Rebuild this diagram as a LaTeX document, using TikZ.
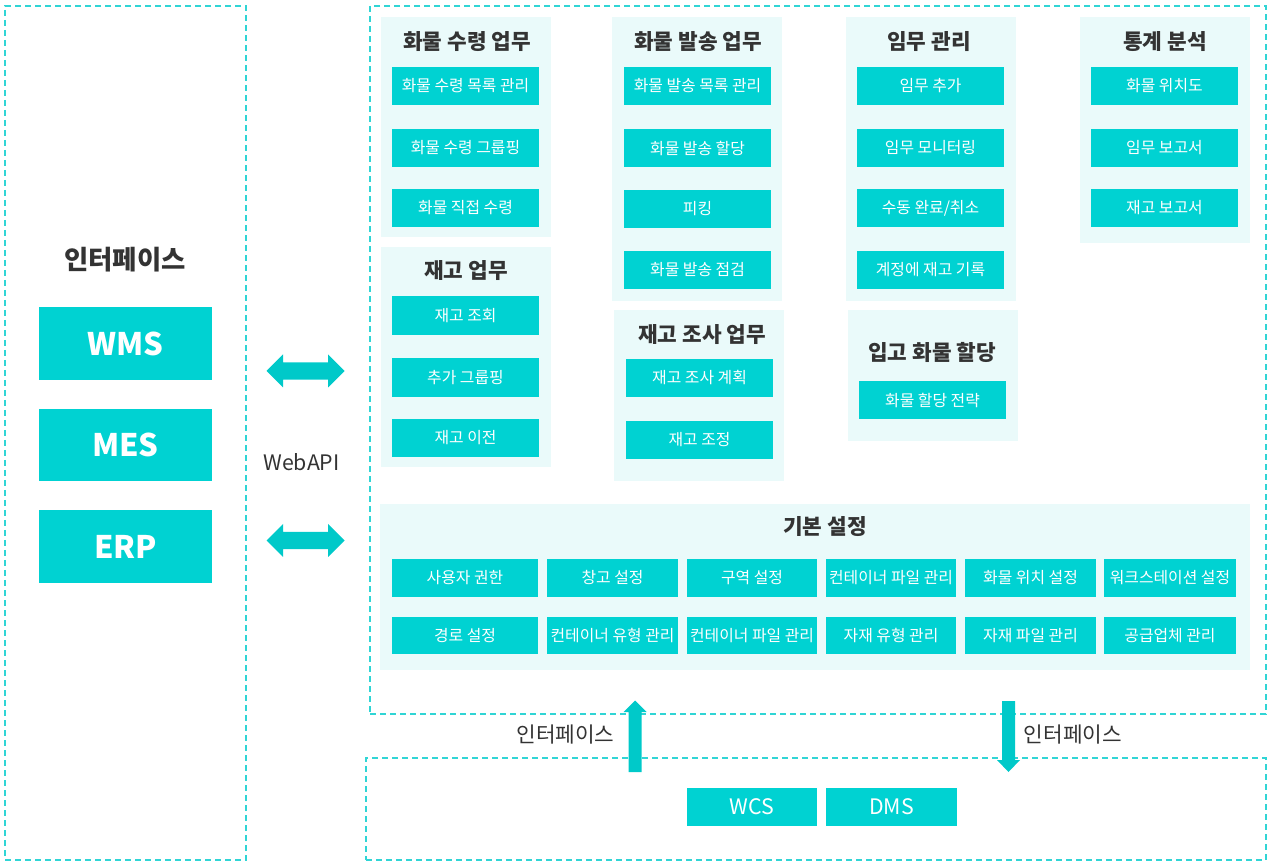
\documentclass[tikz,border=0pt]{standalone}
\usepackage{fontspec}
\setmainfont{Noto Sans CJK KR}
\usetikzlibrary{calc}
\definecolor{acyan}{HTML}{00D2D2}
\definecolor{arrcyan}{HTML}{00C9C9}
\definecolor{panelbg}{HTML}{EAFAFA}
\definecolor{dashcol}{HTML}{30D5D5}
\definecolor{txtdark}{HTML}{333333}
\newcommand\bx[7]{\node[#1, minimum width={(#4-#2)*0.75pt}, minimum height={(#5-#3)*0.75pt}] (#6) at ({(#2+#4)/2},{(#3+#5)/2}) {#7};}
\tikzset{
  dashbox/.style={draw=dashcol, line width=1.1pt, dash pattern=on 4.5pt off 3pt, inner sep=0pt},
  panel/.style={fill=panelbg, inner sep=0pt},
  item/.style={fill=acyan, text=white, inner sep=0pt, font=\fontsize{11.9pt}{14pt}\selectfont},
  bigitem/.style={fill=acyan, text=white, inner sep=0pt, font=\fontsize{23.3pt}{26pt}\selectfont\bfseries},
  miditem/.style={fill=acyan, text=white, inner sep=0pt, font=\fontsize{16pt}{19pt}\selectfont},
  ttl/.style={text=txtdark, inner sep=0pt, font=\fontsize{16pt}{19pt}\selectfont\bfseries},
  bigttl/.style={text=txtdark, inner sep=0pt, font=\fontsize{19.8pt}{23pt}\selectfont\bfseries},
  lbl/.style={text=txtdark, inner sep=0pt, font=\fontsize{16pt}{19pt}\selectfont},
  arrowfill/.style={fill=arrcyan},
}
\begin{document}
\begin{tikzpicture}[x=0.75pt,y=-0.75pt]
\useasboundingbox (0,0) rectangle (1268,862);
% dashed frames
\bx{dashbox}{5}{6}{246}{860}{leftframe}{}
\bx{dashbox}{370}{6}{1266}{714}{mainframe}{}
\bx{dashbox}{366}{758}{1266}{860}{bottomframe}{}
% left column
\node[bigttl] (ifttl) at (125,260) {인터페이스};
\bx{bigitem}{39}{307}{212}{380}{wms}{WMS}
\bx{bigitem}{39}{409}{212}{481}{mes}{MES}
\bx{bigitem}{39}{510}{212}{583}{erp}{ERP}
% WebAPI arrows
\coordinate (api1) at (305.5,371);
\coordinate (api2) at (305.5,540.5);
\foreach \c in {api1,api2}{
\fill[arrowfill, shift={(\c)}] (-39,0) -- (-22.5,-16.5) -- (-22.5,-8.6) -- (22.5,-8.6) -- (22.5,-16.5) -- (39,0) -- (22.5,16.5) -- (22.5,8.6) -- (-22.5,8.6) -- (-22.5,16.5) -- cycle;
}
\node[lbl] (webapi) at (301.5,462) {WebAPI};
% 화물 수령 업무
\bx{panel}{381}{17}{551}{237}{p1}{}
\node[ttl] (t1) at (467,42) {화물 수령 업무};
\bx{item}{392}{67}{539}{105}{p1a}{화물 수령 목록 관리}
\bx{item}{392}{129}{539}{167}{p1b}{화물 수령 그룹핑}
\bx{item}{392}{189}{539}{227}{p1c}{화물 직접 수령}
% 재고 업무
\bx{panel}{381}{247}{551}{467}{p2}{}
\node[ttl] (t2) at (466,271) {재고 업무};
\bx{item}{392}{296}{539}{335}{p2a}{재고 조회}
\bx{item}{392}{358}{539}{397}{p2b}{추가 그룹핑}
\bx{item}{392}{419}{539}{457}{p2c}{재고 이전}
% 화물 발송 업무
\bx{panel}{612}{17}{782}{301}{p3}{}
\node[ttl] (t3) at (698,42) {화물 발송 업무};
\bx{item}{624}{67}{771}{105}{p3a}{화물 발송 목록 관리}
\bx{item}{624}{129}{771}{167}{p3b}{화물 발송 할당}
\bx{item}{624}{190}{771}{228}{p3c}{피킹}
\bx{item}{624}{251}{771}{289}{p3d}{화물 발송 점검}
% 재고 조사 업무
\bx{panel}{614}{310}{784}{481}{p4}{}
\node[ttl] (t4) at (702,335) {재고 조사 업무};
\bx{item}{626}{359}{773}{397}{p4a}{재고 조사 계획}
\bx{item}{626}{421}{773}{459}{p4b}{재고 조정}
% 임무 관리
\bx{panel}{846}{17}{1016}{301}{p5}{}
\node[ttl] (t5) at (929,42) {임무 관리};
\bx{item}{857}{67}{1004}{105}{p5a}{임무 추가}
\bx{item}{857}{129}{1004}{167}{p5b}{임무 모니터링}
\bx{item}{857}{189}{1004}{227}{p5c}{수동 완료/취소}
\bx{item}{857}{251}{1004}{289}{p5d}{계정에 재고 기록}
% 입고 화물 할당
\bx{panel}{848}{310}{1018}{441}{p6}{}
\node[ttl] (t6) at (932,352) {입고 화물 할당};
\bx{item}{859}{381}{1006}{419}{p6a}{화물 할당 전략}
% 통계 분석
\bx{panel}{1080}{17}{1250}{243}{p7}{}
\node[ttl] (t7) at (1165,42) {통계 분석};
\bx{item}{1091}{67}{1238}{105}{p7a}{화물 위치도}
\bx{item}{1091}{129}{1238}{167}{p7b}{임무 보고서}
\bx{item}{1091}{189}{1238}{227}{p7c}{재고 보고서}
% 기본 설정
\bx{panel}{380}{504}{1250}{670}{p8}{}
\node[ttl] (t8) at (825,527) {기본 설정};
\bx{item}{392}{559}{538}{597}{s1}{사용자 권한}
\bx{item}{547}{559}{678}{597}{s2}{창고 설정}
\bx{item}{687}{559}{817}{597}{s3}{구역 설정}
\bx{item}{826}{559}{956}{597}{s4}{컨테이너 파일 관리}
\bx{item}{965}{559}{1096}{597}{s5}{화물 위치 설정}
\bx{item}{1104}{559}{1236}{597}{s6}{워크스테이션 설정}
\bx{item}{392}{617}{538}{654}{s7}{경로 설정}
\bx{item}{547}{617}{678}{654}{s8}{컨테이너 유형 관리}
\bx{item}{687}{617}{817}{654}{s9}{컨테이너 파일 관리}
\bx{item}{826}{617}{956}{654}{s10}{자재 유형 관리}
\bx{item}{965}{617}{1096}{654}{s11}{자재 파일 관리}
\bx{item}{1104}{617}{1236}{654}{s12}{공급업체 관리}
% bottom
\bx{miditem}{687}{788}{817}{826}{wcs}{WCS}
\bx{miditem}{826}{788}{957}{826}{dms}{DMS}
\coordinate (upa) at (635,772);
\coordinate (dna) at (1008.5,701);
\fill[arrowfill, shift={(upa)}] (-6.5,0) -- (-6.5,-60) -- (-11.5,-60) -- (0,-71.5) -- (11.5,-60) -- (6.5,-60) -- (6.5,0) -- cycle;
\fill[arrowfill, shift={(dna)}] (-6.5,0) -- (-6.5,59) -- (-11.5,59) -- (0,71) -- (11.5,59) -- (6.5,59) -- (6.5,0) -- cycle;
\node[lbl] (ifl) at (565.5,735) {인터페이스};
\node[lbl] (ifr) at (1073,735) {인터페이스};
\end{tikzpicture}
\end{document}
